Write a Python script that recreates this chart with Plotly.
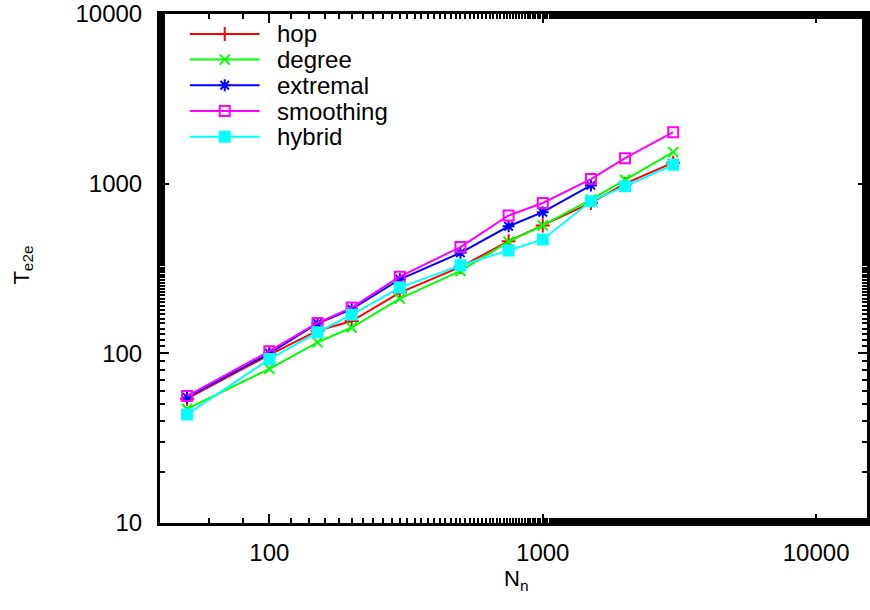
import plotly.graph_objects as go

# ---- data ----
nodes = [50, 100, 150, 200, 300, 500, 750, 1000, 1500, 2000, 3000]
hop = [54, 98, 136, 155, 228, 323, 458, 567, 770, 1000, 1330]
degree = [47, 81, 116, 142, 210, 306, 455, 567, 805, 1055, 1535]
extremal_x = [50, 100, 150, 200, 300, 500, 750, 1000, 1500]
extremal = [55, 100, 150, 182, 273, 391, 561, 679, 977]
smoothing = [56, 103, 151, 186, 283, 423, 649, 769, 1064, 1413, 2010]
hybrid = [43.6, 92.5, 133, 169, 244, 330, 404, 469, 787, 964, 1292]
x_tick_labels = ["100", "1000", "10000"]
y_tick_labels = ["10", "100", "1000", "10000"]

series = [
    ("hop", nodes, hop, "#ff0000", "cross-thin"),
    ("degree", nodes, degree, "#00ff00", "x-thin"),
    ("extremal", extremal_x, extremal, "#0000ff", "asterisk-open"),
    ("smoothing", nodes, smoothing, "#ff00ff", "square-open"),
    ("hybrid", nodes, hybrid, "#00ffff", "square"),
]

W, H = 870, 610
L, R, T, B = 160, 0, 12, 87
PW, PH = W - L - R, H - T - B
FONT = "Liberation Sans, Arial, Helvetica"


def px(xp):
    return (xp - L) / PW


def py(yp):
    return (T + PH - yp) / PH


fig = go.Figure()
for name, xs, ys, col, sym in series:
    fig.add_trace(go.Scatter(
        x=xs, y=ys, name=name, mode="lines+markers", showlegend=False,
        line=dict(color=col, width=2),
        marker=dict(symbol=sym, size=10, color=col, line=dict(color=col, width=2)),
    ))

# ---- gnuplot-style key (drawn in an overlay paper-like axis) ----
shapes = []
annotations = []
key_x0, key_x1, key_xm, key_tx = 190, 260, 225, 275
for i, (name, xs, ys, col, sym) in enumerate(series):
    yy = 32 + 25.8 * i
    shapes.append(dict(type="line", xref="x2", yref="y2",
                       x0=px(key_x0), x1=px(key_x1), y0=py(yy), y1=py(yy),
                       line=dict(color=col, width=2)))
    fig.add_trace(go.Scatter(
        x=[px(key_xm)], y=[py(yy)], mode="markers", showlegend=False,
        xaxis="x2", yaxis="y2", hoverinfo="skip",
        marker=dict(symbol=sym, size=10, color=col, line=dict(color=col, width=2)),
    ))
    annotations.append(dict(text=name, xref="x2", yref="y2", x=px(key_tx), y=py(yy),
                            xanchor="left", yanchor="middle", showarrow=False,
                            font=dict(size=24, family=FONT, color="black")))

axis_common = dict(
    type="log", showline=True, linecolor="black", linewidth=3, mirror="allticks",
    ticks="inside", ticklen=9, tickwidth=2, tickcolor="black",
    showgrid=False, zeroline=False, ticklabeloverflow="allow",
    tickfont=dict(family=FONT, size=24, color="black"),
    minor=dict(ticks="inside", ticklen=5, tickwidth=2, tickcolor="black", showgrid=False),
)

annotations += [
    dict(text="T<sub>e2e</sub>", xref="paper", yref="paper",
         x=px(22), y=py(264), xanchor="center", yanchor="middle", textangle=-90,
         showarrow=False, font=dict(size=22, family=FONT, color="black")),
    dict(text="N<sub>n</sub>", xref="paper", yref="paper",
         x=px(518), y=py(580), xanchor="center", yanchor="middle",
         showarrow=False, font=dict(size=22, family=FONT, color="black")),
]

fig.update_layout(
    width=W, height=H,
    margin=dict(l=L, r=R, t=T, b=B),
    paper_bgcolor="white", plot_bgcolor="white",
    font=dict(family=FONT, size=24, color="black"),
    xaxis=dict(axis_common, range=[1.6, 4.186],
               tickvals=[100, 1000, 10000], ticktext=x_tick_labels,
               ticklabelstandoff=6),
    yaxis=dict(axis_common, range=[1, 4],
               tickvals=[10, 100, 1000, 10000], ticktext=y_tick_labels,
               ticklabelstandoff=10),
    xaxis2=dict(overlaying="x", range=[0, 1], visible=False, anchor="y2"),
    yaxis2=dict(overlaying="y", range=[0, 1], visible=False, anchor="x2"),
    showlegend=False,
    shapes=shapes,
    annotations=annotations,
)

fig.write_html("out.html")
